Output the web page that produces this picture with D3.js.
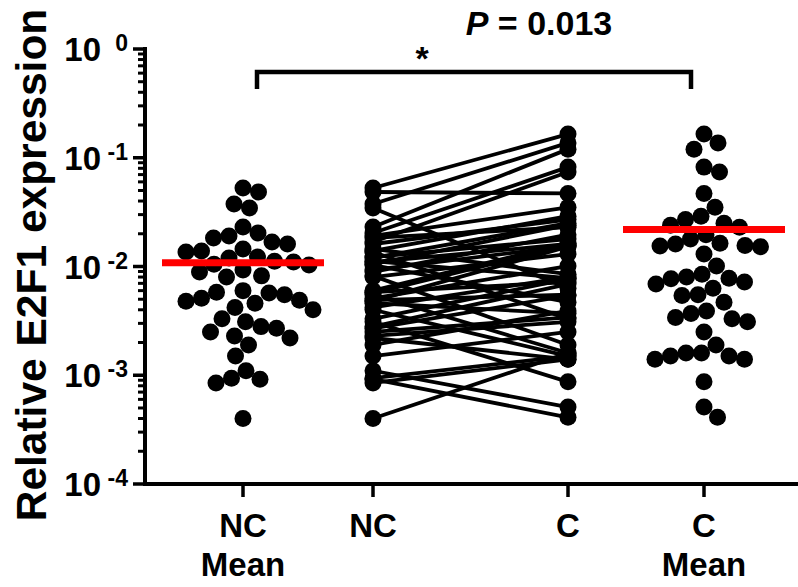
<!DOCTYPE html>
<html>
<head>
<meta charset="utf-8">
<script src="https://cdn.jsdelivr.net/npm/d3@7"></script>
<style>
  body { margin: 0; background: #fff; }
  text { font-family: "Liberation Sans", Arial, sans-serif; font-weight: bold; fill: #000; }
</style>
</head>
<body>
<svg id="chart" width="798" height="587"></svg>
<script>
// Paired samples: ncValues[i] goes with cValues[i]
var ncValues = [0.0527, 0.0484, 0.0376, 0.0345, 0.0231, 0.0203, 0.0191, 0.0183, 0.0168, 0.0161,
                0.0145, 0.0139, 0.0136, 0.0122, 0.0120, 0.0112, 0.0110, 0.0105, 0.0103, 0.0093,
                0.0089, 0.0082, 0.0080, 0.0060, 0.0058, 0.0057, 0.0055, 0.0051, 0.0049, 0.0048,
                0.0046, 0.0042, 0.0040, 0.0033, 0.0031, 0.0028, 0.0027, 0.0025, 0.0023, 0.0022,
                0.0019, 0.0015, 0.0011, 0.00094, 0.00092, 0.00085, 0.00040];
var cValues = [0.165, 0.047, 0.137, 0.0063, 0.120, 0.082, 0.035, 0.023, 0.074, 0.027,
               0.0085, 0.029, 0.0033, 0.0179, 0.025, 0.0078, 0.0161, 0.024, 0.0047, 0.0154,
               0.0196, 0.0019, 0.0130, 0.0164, 0.0072, 0.0156, 0.0016, 0.0101, 0.0055, 0.0152,
               0.0037, 0.0080, 0.0015, 0.0077, 0.00087, 0.0069, 0.0054, 0.0034, 0.0031, 0.0014,
               0.0039, 0.0025, 0.00051, 0.0015, 0.00041, 0.0014, 0.0016];

var categories = ["NC Mean", "NC", "C", "C Mean"];
var categoryLines = [["NC", "Mean"], ["NC"], ["C"], ["C", "Mean"]];
var yTickExponents = [0, -1, -2, -3, -4];
var yLabel = "Relative E2F1 expression";
var pLabel = "= 0.013";
var starLabel = "*";

var svg = d3.select("#chart");

var margin = {top: 49, left: 145, bottom: 103},
    height = +svg.attr("height") - margin.top - margin.bottom;

// log y scale, 1e-4 .. 1
var y = d3.scaleLog().domain([1e-4, 1]).range([margin.top + height, margin.top]);

// column slots (GraphPad spacing, the paired block is wider)
var x = d3.scaleOrdinal().domain(categories).range([243, 373, 568, 704]);

var r = 8.5;

// beeswarm: each dot goes as close to the centre as it can,
// vertical gaps count for a bit less so the rows spread out sideways like Prism does
function swarm(values, cx, minDist, yWeight) {
  var pts = values.map(function(v) { return {v: v, y: y(v), x: cx}; })
    .sort(function(a, b) { return a.y - b.y; });
  var placed = [];
  pts.forEach(function(p) {
    for (var off = 0; off < 200; off += 0.5) {
      var sides = off === 0 ? [0] : [off, -off];
      var ok = false;
      for (var s = 0; s < sides.length; s++) {
        var px = cx + sides[s];
        var clash = placed.some(function(q) {
          var dx = q.x - px, dy = (q.y - p.y) * yWeight;
          return dx * dx + dy * dy < minDist * minDist;
        });
        if (!clash) { p.x = px; ok = true; break; }
      }
      if (ok) break;
    }
    placed.push(p);
  });
  return placed;
}

// Paired lines
var pairs = ncValues.map(function(v, i) { return {nc: v, c: cValues[i]}; });
svg.append("g").selectAll("line")
  .data(pairs)
  .enter().append("line")
  .attr("x1", x("NC"))
  .attr("y1", function(d) { return y(d.nc); })
  .attr("x2", x("C"))
  .attr("y2", function(d) { return y(d.c); })
  .attr("stroke", "#000")
  .attr("stroke-width", 3.8);

// Paired dots
svg.append("g").selectAll("circle")
  .data(ncValues)
  .enter().append("circle")
  .attr("cx", x("NC"))
  .attr("cy", function(d) { return y(d); })
  .attr("r", r);
svg.append("g").selectAll("circle")
  .data(cValues)
  .enter().append("circle")
  .attr("cx", x("C"))
  .attr("cy", function(d) { return y(d); })
  .attr("r", r);

// Scatter columns with mean
[["NC Mean", ncValues], ["C Mean", cValues]].forEach(function(col) {
  var cx = x(col[0]);
  var pts = swarm(col[1], cx, 15.5, 0.8);
  svg.append("g").selectAll("circle")
    .data(pts)
    .enter().append("circle")
    .attr("cx", function(d) { return d.x; })
    .attr("cy", function(d) { return d.y; })
    .attr("r", r);
  var m = d3.mean(col[1]);
  svg.append("line")
    .attr("x1", cx - 81).attr("x2", cx + 81)
    .attr("y1", y(m)).attr("y2", y(m))
    .attr("stroke", "#ff0000")
    .attr("stroke-width", 7);
});

// Y axis: decades + minor ticks
var yAxis = svg.append("g");
var minor = [];
yTickExponents.slice(1).forEach(function(e) {
  for (var k = 2; k <= 9; k++) minor.push(k * Math.pow(10, e));
});
yAxis.selectAll(".minor")
  .data(minor)
  .enter().append("line")
  .attr("x1", margin.left - 7).attr("x2", margin.left)
  .attr("y1", function(d) { return y(d); }).attr("y2", function(d) { return y(d); })
  .attr("stroke", "#000").attr("stroke-width", 3);
yAxis.selectAll(".major")
  .data(yTickExponents)
  .enter().append("line")
  .attr("x1", margin.left - 12).attr("x2", margin.left)
  .attr("y1", function(d) { return y(Math.pow(10, d)); }).attr("y2", function(d) { return y(Math.pow(10, d)); })
  .attr("stroke", "#000").attr("stroke-width", 3.5);
yAxis.selectAll(".base")
  .data(yTickExponents)
  .enter().append("text")
  .attr("x", 101)
  .attr("y", function(d) { return y(Math.pow(10, d)) + 12; })
  .attr("text-anchor", "end")
  .style("font-size", "33px")
  .text("10");
yAxis.selectAll(".exp")
  .data(yTickExponents)
  .enter().append("text")
  .attr("x", 128)
  .attr("y", function(d) { return y(Math.pow(10, d)) + 2; })
  .attr("text-anchor", "end")
  .style("font-size", "23px")
  .text(function(d) { return d === 0 ? "0" : "-" + Math.abs(d); });
yAxis.append("line")
  .attr("x1", margin.left).attr("x2", margin.left)
  .attr("y1", margin.top - 2).attr("y2", margin.top + height + 2)
  .attr("stroke", "#000").attr("stroke-width", 4);

// Y axis label
svg.append("text")
  .attr("transform", "translate(46," + 265 + ") rotate(-90)")
  .attr("text-anchor", "middle")
  .style("font-size", "42.5px")
  .text(yLabel);

// X axis
var xAxis = svg.append("g");
xAxis.append("line")
  .attr("x1", margin.left - 2).attr("x2", 798)
  .attr("y1", margin.top + height).attr("y2", margin.top + height)
  .attr("stroke", "#000").attr("stroke-width", 4);
xAxis.selectAll(".tick")
  .data(categories)
  .enter().append("line")
  .attr("x1", function(d) { return x(d); }).attr("x2", function(d) { return x(d); })
  .attr("y1", margin.top + height).attr("y2", margin.top + height + 13)
  .attr("stroke", "#000").attr("stroke-width", 3.5);
categories.forEach(function(c, i) {
  categoryLines[i].forEach(function(t, j) {
    xAxis.append("text")
      .attr("x", x(c))
      .attr("y", 537 + j * 39)
      .attr("text-anchor", "middle")
      .style("font-size", "33px")
      .text(t);
  });
});

// Significance bracket
svg.append("path")
  .attr("d", "M257,89 V72 H691 V89")
  .attr("fill", "none")
  .attr("stroke", "#000")
  .attr("stroke-width", 4.5);
svg.append("text")
  .attr("x", 422).attr("y", 70)
  .attr("text-anchor", "middle")
  .style("font-size", "34px")
  .text(starLabel);
var pText = svg.append("text")
  .attr("x", 539).attr("y", 35)
  .attr("text-anchor", "middle")
  .style("font-size", "34px");
pText.append("tspan").style("font-style", "italic").text("P");
pText.append("tspan").text(" " + pLabel);
</script>
</body>
</html>
